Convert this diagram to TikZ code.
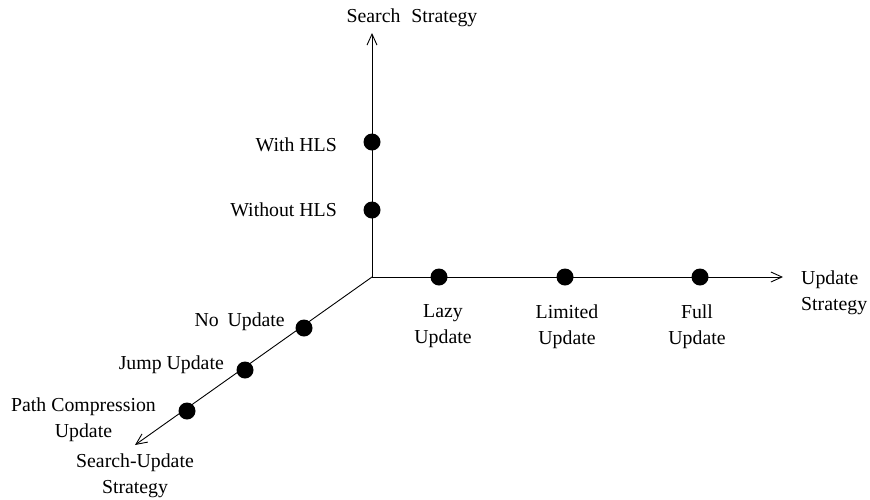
\documentclass[tikz,border=0pt]{standalone}
\usepackage{fontspec}
\setmainfont{Liberation Serif}
\usetikzlibrary{arrows.meta}
\begin{document}
\begin{tikzpicture}[x=1pt,y=-1pt,
		dot/.style={circle,fill=black,inner sep=0pt,minimum size=17pt},
		lbl/.style={inner sep=0pt,align=center,font=\fontsize{19.8}{26}\selectfont},
		axis/.style={-{Straight Barb[length=11pt,width=10pt]},line width=0.9pt}]
				\useasboundingbox (0,0) rectangle (870,499);
				\coordinate(o) at (372,277);
				\coordinate(up) at (372,33);
				\coordinate(right) at (783,277);
				\coordinate(down) at (135,445);
				% the three axes
				\draw[axis] (o) -- (up);
				\draw[axis] (o) -- (right);
				\draw[axis] (o) -- (down);
				% search strategy
				\node(with) at (372,142)[dot]{};
				\node(without) at (372,210)[dot]{};
				\node(search) at (412,18)[lbl]{Search\hspace{0.55em}Strategy};
				\node[lbl,anchor=east] at (337,145){With HLS};
				\node[lbl,anchor=east] at (337,210){Without HLS};
				% update strategy
				\node(lazy) at (439,277)[dot]{};
				\node(limited) at (565,277)[dot]{};
				\node(full) at (700,277)[dot]{};
				\node(update) at (801,292.5)[lbl,anchor=west,align=left]{Update\\Strategy};
				\node[lbl] at (443,326.5){Lazy\\Update};
				\node[lbl] at (567,326.5){Limited\\Update};
				\node[lbl] at (697,326.5){Full\\Update};
				% search-update strategy
				\node(noupd) at (304,328)[dot]{};
				\node(jump) at (245,370)[dot]{};
				\node(path) at (187,411)[dot]{};
				\node(searchupd) at (135,476)[lbl]{Search-Update\\Strategy};
				\node[lbl,anchor=east] at (285,322){No\hspace{0.45em}Update};
				\node[lbl,anchor=east] at (224,365){Jump Update};
				\node[lbl,anchor=east] at (156,419.5){Path Compression\\Update};
			\end{tikzpicture}
\end{document}
